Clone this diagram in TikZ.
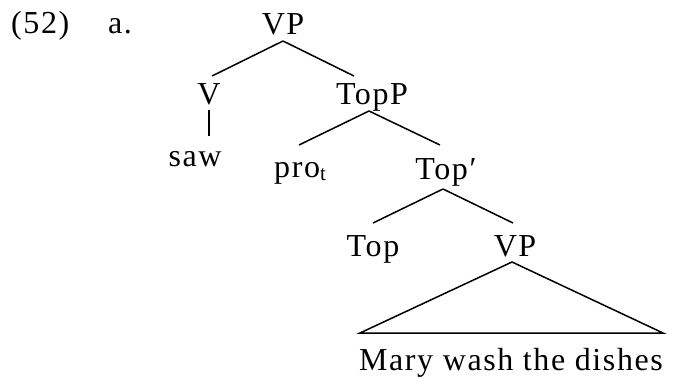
\documentclass[tikz,border=0pt]{standalone}
\usepackage{fontspec}
\setmainfont{Liberation Serif}[LetterSpace=5]
\usetikzlibrary{calc}
\begin{document}
\begin{tikzpicture}[x=1pt,y=-1pt,
  lbl/.style={anchor=base,inner sep=0pt,font=\fontsize{32pt}{36pt}\selectfont},
  edge/.style={line width=1.5pt}]
\path[use as bounding box] (0,0) rectangle (682,385);
\node[lbl,anchor=base west] (ex) at (11,34) {(52)};
\node[lbl,anchor=base west] (a) at (108,34) {a.};
\node[lbl] (VP) at (283,35) {VP};
\node[lbl] (V) at (209,105) {V};
\node[lbl] (TopP) at (372,105) {TopP};
\node[lbl] (saw) at (195,166) {saw};
\node[lbl,anchor=base west] (pro) at (274,177) {pro\raisebox{-3pt}{\fontsize{21pt}{21pt}\selectfont t}};
\node[lbl] (Topbar) at (446,179) {Top′};
\node[lbl] (Top) at (373,256) {Top};
\node[lbl] (VP2) at (515,256) {VP};
\node[lbl] (MWTD) at (511,370) {Mary wash the dishes};
\draw[edge] ($(VP.base)+(0,6)$) -- ($(V.base)+(3,-29)$);
\draw[edge] ($(VP.base)+(0,6)$) -- ($(TopP.base)+(-18,-29)$);
\draw[edge] ($(V.base)+(0,5)$) -- ($(saw.base)+(14,-30)$);
\draw[edge] ($(TopP.base)+(-3,6)$) -- ($(pro.base west)+(25,-32)$);
\draw[edge] ($(TopP.base)+(-3,6)$) -- ($(Topbar.base)+(-6,-34)$);
\draw[edge] ($(Topbar.base)+(-3,10)$) -- ($(Top.base)+(0,-33)$);
\draw[edge] ($(Topbar.base)+(-3,10)$) -- ($(VP2.base)+(-2,-33)$);
\draw[edge,line join=miter] ($(VP2.base)+(-3,6)$) -- ($(MWTD.base)+(-151,-37)$) -- ($(MWTD.base)+(152,-37)$) -- cycle;
\end{tikzpicture}
\end{document}
